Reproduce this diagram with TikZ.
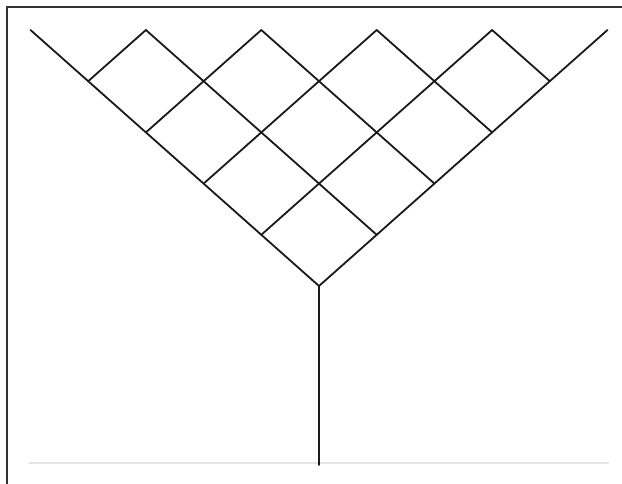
\documentclass[tikz,border=0pt]{standalone}
\usepackage{tikz}
\usetikzlibrary{calc}

\begin{document}
\begin{tikzpicture}[
  x=1pt, y=-1pt,
  edge/.style={line width=1.8pt, line cap=round, color=black!90},
  ground/.style={line width=2pt, color=black!10},
  frame/.style={line width=1.4pt, color=black!80}
]
\useasboundingbox (0,0) rectangle (622,484);
% outer frame (top and left)
\coordinate (fb) at (7,484);
\coordinate (ft) at (7,7);
\coordinate (fr) at (622,7);
\draw[frame] (fb) -- (ft) -- (fr);
% lattice points, p00 is the apex
\foreach \i in {0,...,5} {
  \foreach \j in {0,...,5} {
    \coordinate (p\i\j) at ({319+(\j-\i)*57.7}, {286-(\i+\j)*51.2});
  }
}
\coordinate (base) at (319,465);
\coordinate (gl) at (29,463);
\coordinate (gr) at (609,463);
\draw[ground] (gl) -- (gr);
\draw[edge] (p00) -- (base);
\foreach \i in {0,...,4} {
  \pgfmathtruncatemacro\k{5-\i}
  \draw[edge] (p\i0) -- (p\i\k);
  \draw[edge] (p0\i) -- (p\k\i);
}
\end{tikzpicture}
\end{document}
